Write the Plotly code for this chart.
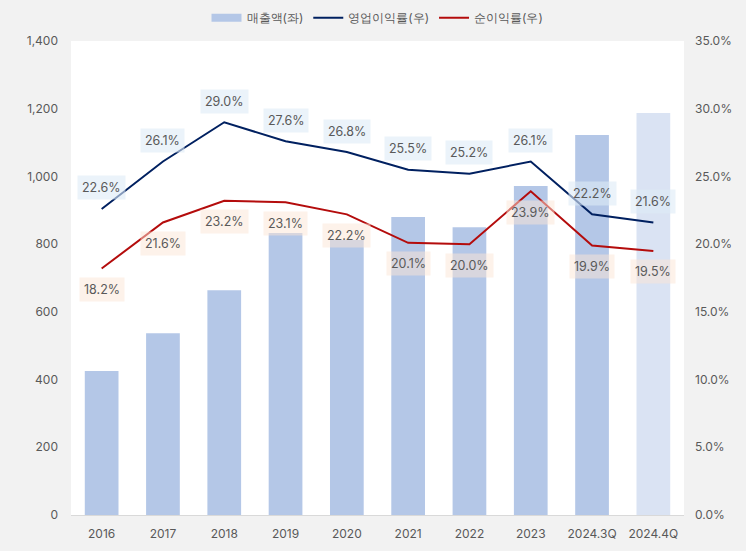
import plotly.graph_objects as go

categories = ["2016", "2017", "2018", "2019", "2020", "2021", "2022", "2023", "2024.3Q", "2024.4Q"]
sales = [425, 537, 664, 833, 812, 880, 850, 972, 1122, 1187]
op_margin = [22.6, 26.1, 29.0, 27.6, 26.8, 25.5, 25.2, 26.1, 22.2, 21.6]
net_margin = [18.2, 21.6, 23.2, 23.1, 22.2, 20.1, 20.0, 23.9, 19.9, 19.5]

bar_colors = ["#b4c7e7"] * 9 + ["#dae3f3"]
font_family = "Inter, Noto Sans, sans-serif"
txt_color = "#595959"

fig = go.Figure()
fig.add_trace(go.Bar(x=categories, y=sales, name="매출액(좌)",
                     marker=dict(color=bar_colors, line=dict(width=0)),
                     width=0.55, yaxis="y", showlegend=False))
# legend proxy with a wide rectangle symbol
fig.add_trace(go.Scatter(x=[None], y=[None], name="매출액(좌)", mode="lines",
                         line=dict(color="#b4c7e7", width=8), yaxis="y"))
fig.add_trace(go.Scatter(x=categories, y=[v / 100 for v in op_margin], name="영업이익률(우)",
                         mode="lines", line=dict(color="#002060", width=2), yaxis="y2"))
fig.add_trace(go.Scatter(x=categories, y=[v / 100 for v in net_margin], name="순이익률(우)",
                         mode="lines", line=dict(color="#b40c0c", width=2), yaxis="y2"))

annotations = []
for i, v in enumerate(op_margin):
    annotations.append(dict(x=i, y=v / 100, xref="x", yref="y2", text=f"{v:.1f}%",
                            showarrow=False, yshift=21, bgcolor="rgba(222,235,247,0.6)",
                            font=dict(size=12.5, color=txt_color, family=font_family),
                            borderpad=4))
for i, v in enumerate(net_margin):
    annotations.append(dict(x=i, y=v / 100, xref="x", yref="y2", text=f"{v:.1f}%",
                            showarrow=False, yshift=-21, bgcolor="rgba(251,229,214,0.5)",
                            font=dict(size=12.5, color=txt_color, family=font_family),
                            borderpad=4))

fig.update_layout(
    width=746, height=551,
    paper_bgcolor="#f2f2f2", plot_bgcolor="#ffffff",
    margin=dict(l=71, r=62, t=41, b=36, autoexpand=False),
    font=dict(family=font_family, size=12, color=txt_color),
    legend=dict(orientation="h", x=0.5, xanchor="center", y=1.049, yanchor="middle",
                font=dict(size=12, color=txt_color), bgcolor="rgba(0,0,0,0)",
                traceorder="normal"),
    xaxis=dict(type="category", showgrid=False, showline=True, linecolor="#d9d9d9", linewidth=1,
               ticks="", tickfont=dict(size=12, color=txt_color), range=[-0.5, 9.5],
               ticklabelstandoff=8),
    yaxis=dict(range=[0, 1400], dtick=200, tickformat=",", showgrid=False,
               zeroline=False, ticks="", tickfont=dict(size=12, color=txt_color),
               ticklabelstandoff=12),
    yaxis2=dict(range=[0, 0.35], dtick=0.05, tickformat=".1%", overlaying="y", side="right",
                showgrid=False, zeroline=False, ticks="", tickfont=dict(size=12, color=txt_color),
                ticklabelstandoff=10),
    annotations=annotations,
    showlegend=True,
)

fig.write_html("out.html", config={"displayModeBar": False},
               post_script="document.body.style.margin='0';")
